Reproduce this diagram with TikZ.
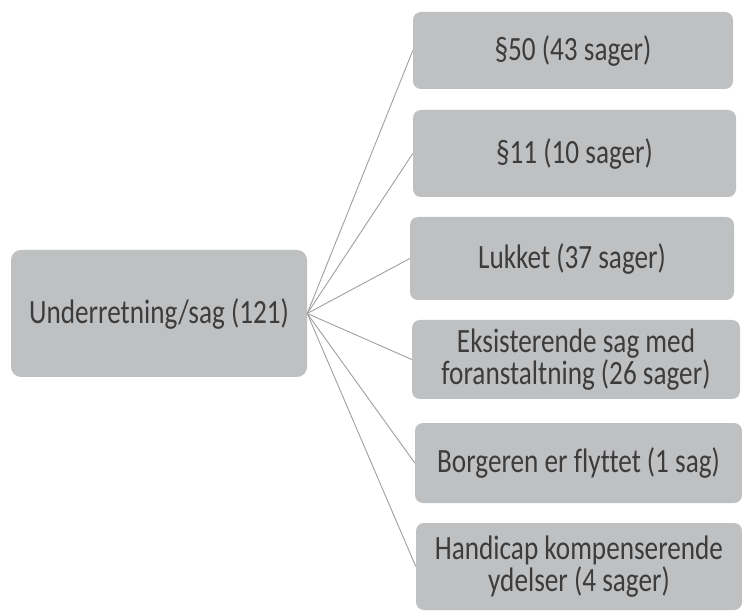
\documentclass[tikz,border=0pt]{standalone}
\usepackage{fontspec}
\setmainfont[FakeStretch=0.8,Ligatures=NoCommon]{Carlito}
\definecolor{boxfill}{HTML}{BFC0C2}
\definecolor{txt}{HTML}{3C3C3C}
\definecolor{linec}{HTML}{A0A0A0}
\begin{document}
\begin{tikzpicture}[x=1pt,y=-1pt,
  box/.style={fill=boxfill, draw=none, rounded corners=8pt, inner sep=0pt, align=center,
    text=txt, font=\fontsize{34}{30}\selectfont},
  conn/.style={draw=linec, line width=0.9pt}]
\useasboundingbox[fill=white] (0,0) rectangle (742,612);
\node[box, rounded corners=10pt, minimum width=296pt, minimum height=127pt] (root) at (159,313.5) {Underretning/sag (121)};
\node[box, minimum width=320pt, minimum height=77pt] (n1) at (573,50.5) {§50 (43 sager)};
\node[box, minimum width=323pt, minimum height=87pt] (n2) at (574.5,153.5) {§11 (10 sager)};
\node[box, minimum width=324pt, minimum height=83pt] (n3) at (572,258.5) {Lukket (37 sager)};
\node[box, minimum width=328pt, minimum height=79pt] (n4) at (576,359.5) {Eksisterende sag med\\foranstaltning (26 sager)};
\node[box, minimum width=327pt, minimum height=80pt] (n5) at (578.5,463) {Borgeren er flyttet (1 sag)};
\node[box, minimum width=326pt, minimum height=87pt] (n6) at (579,566.5) {Handicap kompenserende\\ydelser (4 sager)};
\foreach \n in {n1,n2,n3,n4,n5,n6}
  \draw[conn] (root.east) -- (\n.west);
\end{tikzpicture}
\end{document}
